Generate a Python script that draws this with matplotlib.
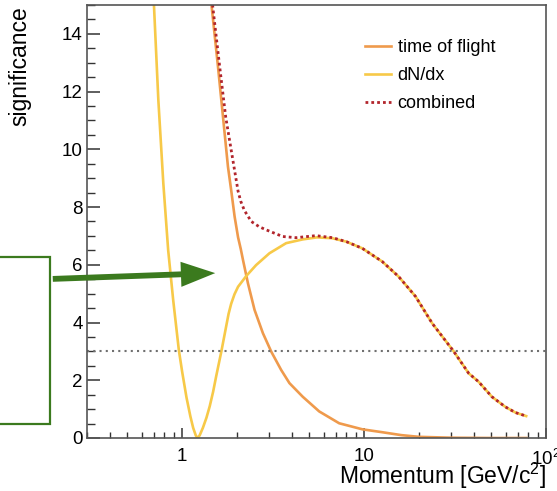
import matplotlib.pyplot as plt
from matplotlib.patches import Rectangle, FancyArrowPatch
from matplotlib.ticker import MultipleLocator, LogLocator, NullFormatter

plt.rcParams['font.family'] = ['Liberation Sans', 'DejaVu Sans']
plt.rcParams['mathtext.fontset'] = 'custom'
plt.rcParams['mathtext.rm'] = 'Liberation Sans'

# momentum [GeV/c^2] and significance for each method
p_dndx = [0.69, 0.70, 0.74, 0.788, 0.838, 0.893, 0.959, 1.0, 1.057, 1.11, 1.15, 1.19,
          1.22, 1.25, 1.30, 1.36, 1.418, 1.48, 1.54, 1.643, 1.75, 1.80, 1.86, 1.94,
          2.03, 2.25, 2.55, 3.02, 3.73, 4.6, 5.5, 6.7, 8.0, 9.78, 12.6, 15.5, 19.2,
          23.7, 31.1, 37.6, 42.6, 50.4, 59.7, 68.0, 77.8]
s_dndx = [15.6, 15.0, 11.71, 8.83, 6.51, 4.78, 3.05, 2.3, 1.4, 0.75, 0.35, 0.08,
          0.0, 0.1, 0.35, 0.7, 1.1, 1.6, 2.15, 3.0, 3.9, 4.3, 4.65, 4.98,
          5.24, 5.61, 5.99, 6.40, 6.75, 6.88, 6.95, 6.92, 6.8, 6.57, 6.11, 5.59, 4.90,
          3.97, 3.0, 2.24, 1.95, 1.43, 1.08, 0.88, 0.76]

p_tof = [1.43, 1.45, 1.574, 1.677, 1.786, 1.86, 1.943, 2.03, 2.1, 2.16, 2.30, 2.50,
         2.78, 3.09, 3.50, 3.89, 4.6, 5.67, 7.3, 9.8, 12.6, 16.0, 20.0, 30.0, 50.0, 78.0]
s_tof = [15.6, 15.0, 12.87, 11.13, 9.40, 8.59, 7.67, 6.95, 6.55, 6.17, 5.36, 4.44,
         3.63, 2.99, 2.36, 1.90, 1.43, 0.92, 0.51, 0.30, 0.20, 0.10, 0.04, 0.01, 0.0, 0.0]

p_comb = [1.45, 1.47, 1.608, 1.735, 1.86, 2.03, 2.1, 2.2, 2.4, 2.65, 2.9, 3.2, 3.57,
          4.23, 5.44, 6.7, 8.0, 9.78, 12.6, 15.5, 19.2, 23.7, 31.1, 37.6, 42.6, 50.4,
          59.7, 68.0, 77.8]
s_comb = [15.6, 15.0, 12.87, 11.13, 9.98, 8.55, 8.2, 7.88, 7.5, 7.32, 7.21, 7.1, 6.98,
          6.94, 7.01, 6.94, 6.8, 6.57, 6.11, 5.59, 4.90, 3.97, 3.0, 2.24, 1.95, 1.43,
          1.08, 0.88, 0.76]

threshold = 3.0

fig = plt.figure(figsize=(5.57, 4.91), dpi=100)
ax = fig.add_axes([87/557, 1 - 438/491, 459/557, 433/491])

ax.plot(p_tof, s_tof, color='#ef9a4c', lw=1.9, label='time of flight')
ax.plot(p_dndx, s_dndx, color='#f7c948', lw=1.9, label='dN/dx')
ax.plot(p_comb, s_comb, color='#b2252c', lw=2.0, ls=(0, (1, 1.1)), label='combined')
ax.axhline(threshold, color='#707070', lw=1.5, ls=(0, (1, 2)))

ax.set_xscale('log')
ax.set_xlim(0.3, 100)
ax.set_ylim(0, 15)

ax.set_xticks([1, 10, 100])
ax.set_xticklabels(['1', '10', '$10^2$'])
ax.xaxis.set_minor_locator(LogLocator(base=10, subs=range(2, 10)))
ax.xaxis.set_minor_formatter(NullFormatter())
ax.set_yticks(range(0, 15, 2))
ax.yaxis.set_minor_locator(MultipleLocator(0.5))

ax.tick_params(axis='both', which='both', direction='in', colors='#333333',
               labelcolor='black', labelsize=13.5, top=False, right=False)
ax.tick_params(axis='y', which='major', length=9.5, width=1.1, pad=3)
ax.tick_params(axis='y', which='minor', length=5.5, width=1.0)
ax.tick_params(axis='x', which='major', length=7.5, width=1.1, pad=7.5)
ax.tick_params(axis='x', which='minor', length=4.5, width=1.0)
for sp in ax.spines.values():
    sp.set_color('#555555')
    sp.set_linewidth(1.2)

fig.text(546/557, 1 - 484/491, 'Momentum [GeV/c$^2$]', ha='right', va='baseline', fontsize=16.5)
fig.text(20/557, 1 - 6/491, 'significance', rotation=90, ha='center', va='top', fontsize=16.5)

ax.legend(loc='upper left', bbox_to_anchor=(365/557, 1 - 39/491),
          bbox_transform=fig.transFigure, frameon=False, fontsize=13,
          handlelength=1.45, handletextpad=0.35, labelspacing=0.62,
          borderpad=0, borderaxespad=0)

# green callout box and arrow on the left
green = '#3b7a1e'
fig.add_artist(Rectangle((-5/557, 1 - 424/491), 55/557, 167/491,
                         transform=fig.transFigure, fill=False, ec=green, lw=1.6))
fig.add_artist(FancyArrowPatch((50/557, 1 - 279/491), (218/557, 1 - 273/491),
                               transform=fig.transFigure, color=green,
                               arrowstyle='simple,head_length=1.3,head_width=0.95,tail_width=0.22',
                               mutation_scale=19, lw=0))

plt.savefig('out.png', dpi=100)
plt.close()
